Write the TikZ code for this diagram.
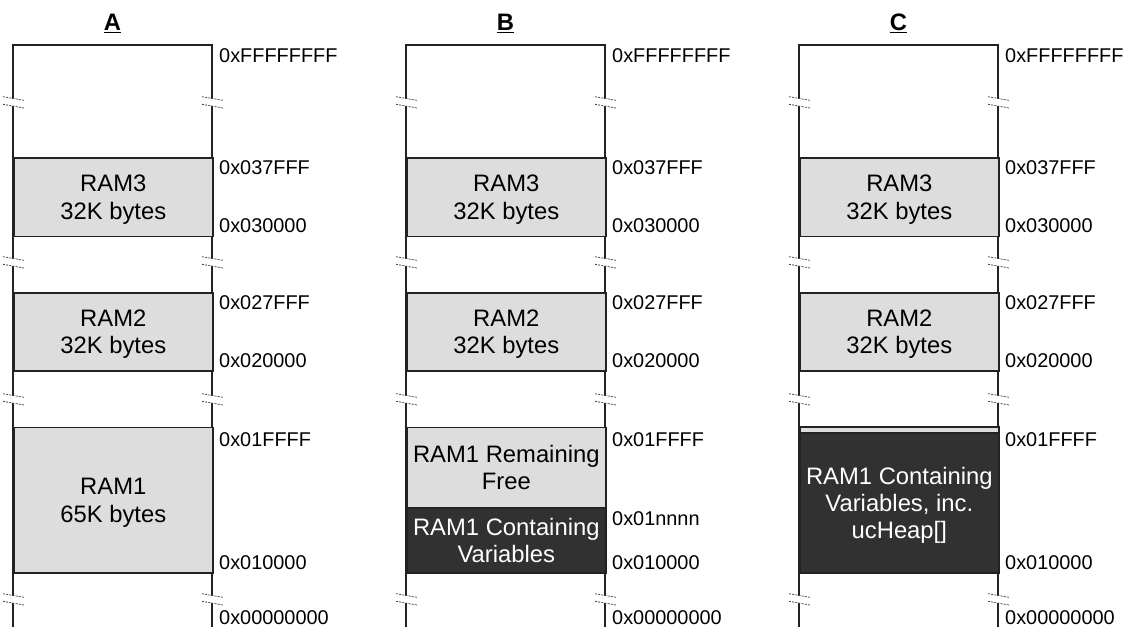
\documentclass[tikz,border=0pt]{standalone}
\usepackage{fontspec}
\setmainfont{Liberation Sans}
\definecolor{lightfill}{HTML}{DDDDDD}
\definecolor{darkfill}{HTML}{313131}
\definecolor{edge}{HTML}{222222}
\tikzset{
 membox/.style={draw=edge, line width=1.6pt, minimum width=199pt, anchor=north west, inner sep=0pt, text depth=0pt, font=\fontsize{23.8}{27.7}\selectfont, align=center},
 lightbox/.style={membox, fill=lightfill, text=black},
 darkbox/.style={membox, fill=darkfill, text=white},
 tight/.style={font=\fontsize{23.8}{26.7}\selectfont},
 addr/.style={anchor=base west, inner sep=0pt, font=\fontsize{19.9}{23}\selectfont},
 ttl/.style={anchor=base, inner sep=0pt, font=\fontsize{23.8}{27}\selectfont\bfseries},
 wall/.style={line width=1.6pt, draw=edge},
 brk/.style={line width=0.8pt, draw=black!70, dash pattern=on 2pt off 1.2pt},
}
\begin{document}
\begin{tikzpicture}[x=1pt,y=-1pt]
\useasboundingbox (0,0) rectangle (1126,627);
\foreach \x/\n in {13/A,406/B,799/C}{
  % walls
  \draw[wall] (\x,98.5) -- (\x,45) -- (\x+199,45) -- (\x+199,98.5);
  \foreach \ya/\yb in {106.1/258.5,266.1/395.5,403.1/595.5,603.1/627}{
    \draw[wall] (\x,\ya) -- (\x,\yb);
    \draw[wall] (\x+199,\ya) -- (\x+199,\yb);
  }
  % breaks
  \foreach \yc in {102.3,262.3,399.3,599.3}{
    \foreach \xx in {\x,\x+199}{
      \draw[brk] (\xx-10,\yc-5.6) -- (\xx+11,\yc-2);
      \draw[brk] (\xx-10,\yc+2) -- (\xx+11,\yc+5.7);
    }
  }
  % title
  \node[ttl] (t\n) at (\x+99.5,30) {\n};
  \draw[line width=1.6pt] ([yshift=-2.5pt]t\n.base west) -- ([yshift=-2.5pt]t\n.base east);
  % common boxes
  \node[lightbox, minimum height=78.5pt] (ramthree\n) at (\x,157.3) {RAM3\\32K bytes};
  \node[lightbox, minimum height=78pt] (ramtwo\n) at (\x,292) {RAM2\\32K bytes};
  % addresses
  \node[addr] (aF\n) at (\x+206,62.3) {0xFFFFFFFF};
  \node[addr] (a37\n) at (\x+206,174.3) {0x037FFF};
  \node[addr] (a30\n) at (\x+206,232.7) {0x030000};
  \node[addr] (a27\n) at (\x+206,309) {0x027FFF};
  \node[addr] (a20\n) at (\x+206,367.5) {0x020000};
  \node[addr] (a1F\n) at (\x+206,446) {0x01FFFF};
  \node[addr] (a10\n) at (\x+206,569) {0x010000};
  \node[addr] (a0\n) at (\x+206,624) {0x00000000};
}
% column A
\node[lightbox, minimum height=145.5pt] (ramoneA) at (13,426.5) {RAM1\\65K bytes};
% column B
\node[lightbox, tight, minimum height=80.5pt] (freeB) at (406,426.5) {RAM1 Remaining\\Free};
\node[darkbox, tight, minimum height=65pt] (varsB) at (406,507) {RAM1 Containing\\Variables};
\node[addr] (annnnB) at (612,525.7) {0x01nnnn};
% column C
\node[lightbox, minimum height=6pt] (stripC) at (799,426) {};
\node[darkbox, tight, minimum height=140pt] (varsC) at (799,432) {RAM1 Containing\\Variables, inc.\\ucHeap[]};
\end{tikzpicture}
\end{document}
